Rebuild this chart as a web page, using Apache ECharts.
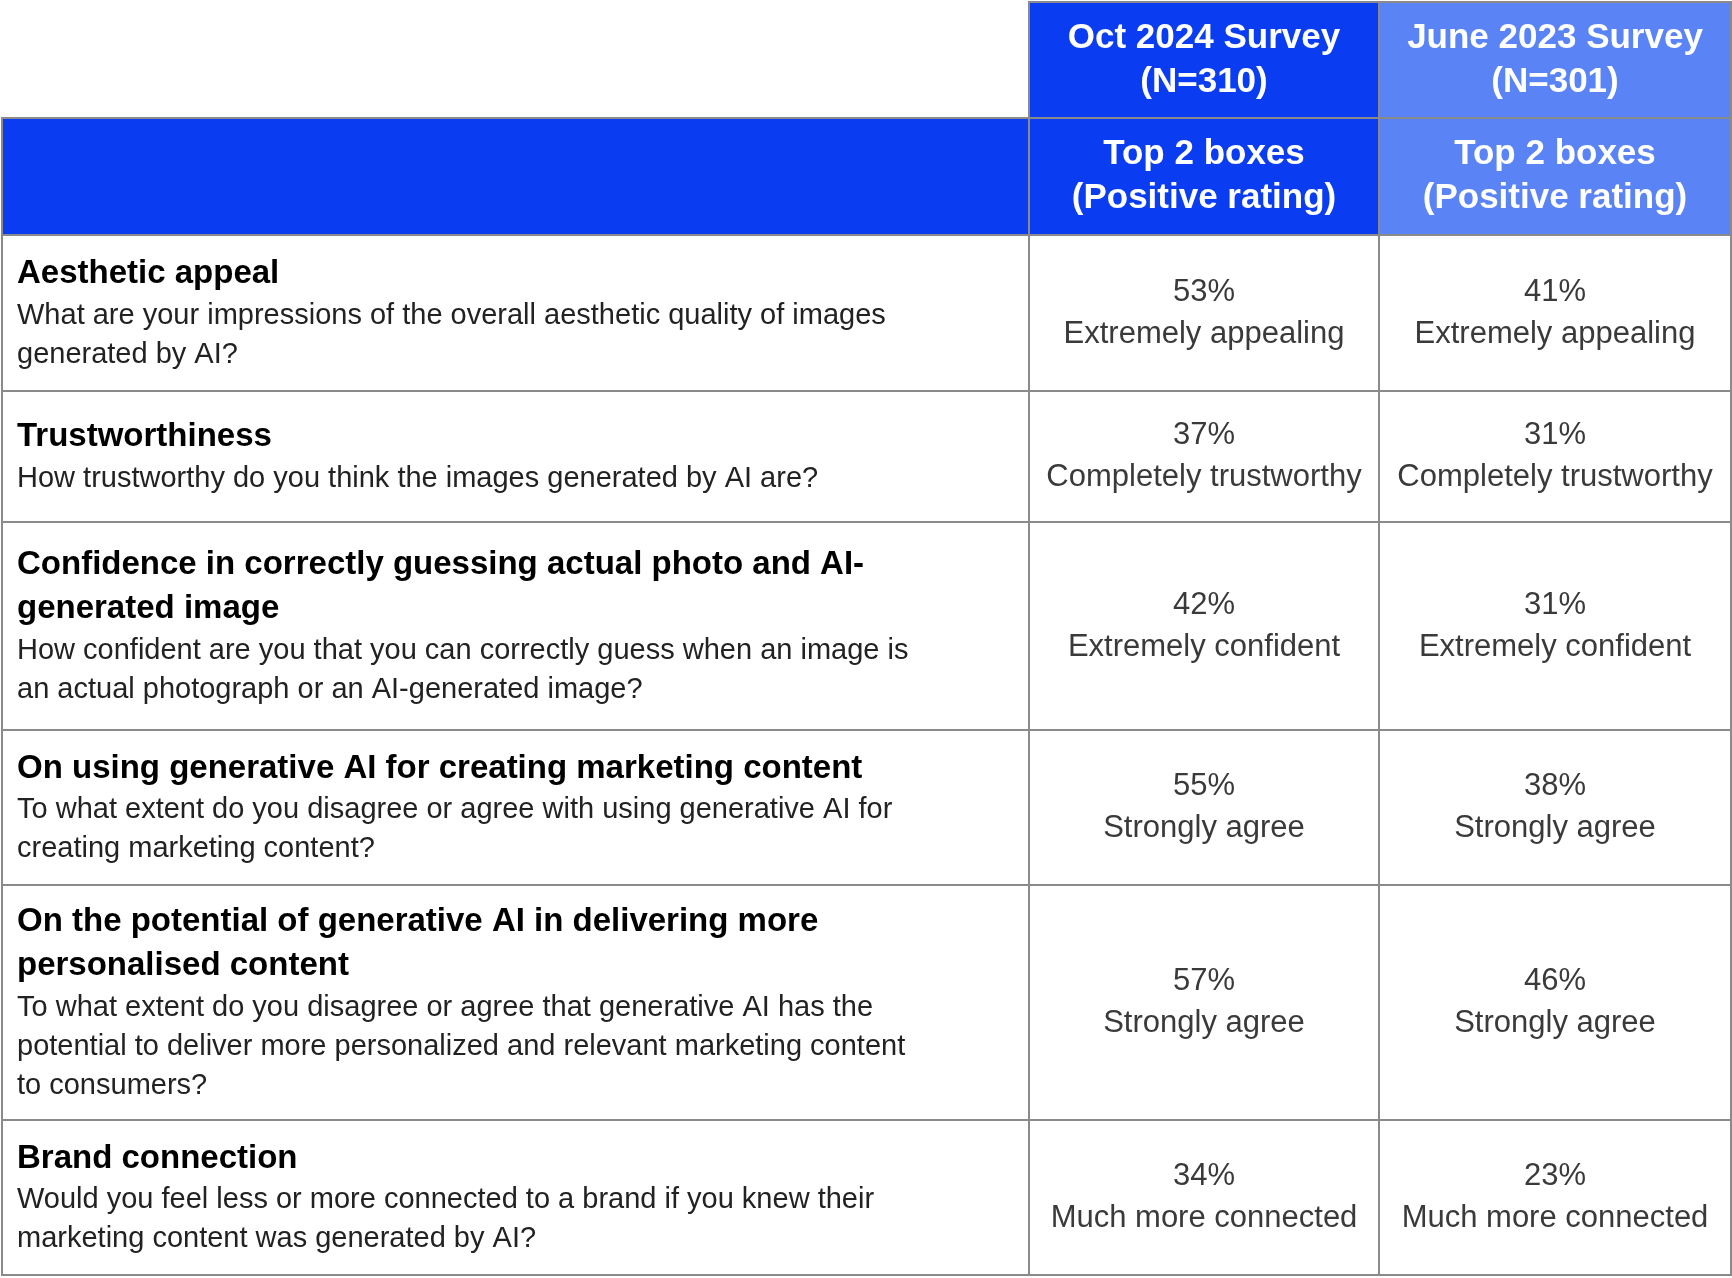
<!DOCTYPE html>
<html><head><meta charset="utf-8">
<script src="https://cdn.jsdelivr.net/npm/echarts@6/dist/echarts.min.js"></script>
<style>html,body{margin:0;background:#fff}#c{width:1732px;height:1278px}</style>
</head><body><div id="c"></div>
<script>
// data
const surveys = ['Oct 2024 Survey\n(N=310)', 'June 2023 Survey\n(N=301)'];
const subHeader = 'Top 2 boxes\n(Positive rating)';
const topics = [
  'Aesthetic appeal',
  'Trustworthiness',
  'Confidence in correctly guessing actual photo and AI-\ngenerated image',
  'On using generative AI for creating marketing content',
  'On the potential of generative AI in delivering more\npersonalised content',
  'Brand connection'
];
const questions = [
  'What are your impressions of the overall aesthetic quality of images\ngenerated by AI?',
  'How trustworthy do you think the images generated by AI are?',
  'How confident are you that you can correctly guess when an image is\nan actual photograph or an AI-generated image?',
  'To what extent do you disagree or agree with using generative AI for\ncreating marketing content?',
  'To what extent do you disagree or agree that generative AI has the\npotential to deliver more personalized and relevant marketing content\nto consumers?',
  'Would you feel less or more connected to a brand if you knew their\nmarketing content was generated by AI?'
];
const oct2024 = [53, 37, 42, 55, 57, 34];
const june2023 = [41, 31, 31, 38, 46, 23];
const answerLabels = ['Extremely appealing', 'Completely trustworthy', 'Extremely confident',
  'Strongly agree', 'Strongly agree', 'Much more connected'];

// layout (pixel edges of the table grid)
const colEdges = [2, 1029, 1379, 1731];
const rowEdges = [2, 118, 235, 391, 522, 730, 885, 1120, 1275];

const DARK = '#0a3cf2', LIGHT = '#5a84f6';
const FONT = '"Liberation Sans", Arial, sans-serif';

const cells = [];
surveys.forEach((s, i) => cells.push({value: [i + 1, 0], kind: 'head', text: s}));
cells.push({value: [0, 1], kind: 'blank'});
surveys.forEach((s, i) => cells.push({value: [i + 1, 1], kind: 'head', text: subHeader}));
topics.forEach((t, r) => {
  cells.push({value: [0, r + 2], kind: 'label', r});
  cells.push({value: [1, r + 2], kind: 'val', text: oct2024[r] + '%\n' + answerLabels[r]});
  cells.push({value: [2, r + 2], kind: 'val', text: june2023[r] + '%\n' + answerLabels[r]});
});

function renderItem(params, api) {
  const d = cells[params.dataIndex];
  const c = d.value[0], r = d.value[1];
  const p0 = api.coord([colEdges[c], rowEdges[r]]);
  const p1 = api.coord([colEdges[c + 1], rowEdges[r + 1]]);
  const w = p1[0] - p0[0], h = p1[1] - p0[1];
  let fill = '#fff';
  if (d.kind === 'head') fill = c === 1 ? DARK : LIGHT;
  if (d.kind === 'blank') fill = DARK;
  const children = [{type: 'rect', shape: {x: p0[0], y: p0[1], width: w, height: h},
    style: {fill, stroke: '#8a8a8a', lineWidth: 2}}];
  if (d.kind === 'head') {
    children.push({type: 'text', style: {x: p0[0] + w / 2, y: p0[1] + h / 2, text: d.text,
      align: 'center', verticalAlign: 'middle', fill: '#fff', font: 'bold 35px ' + FONT, lineHeight: 44}});
  } else if (d.kind === 'val') {
    children.push({type: 'text', style: {x: p0[0] + w / 2, y: p0[1] + h / 2, text: d.text,
      align: 'center', verticalAlign: 'middle', fill: '#3a3a3a', font: '31px ' + FONT, lineHeight: 42}});
  } else if (d.kind === 'label') {
    children.push({type: 'text', style: {x: p0[0] + 15, y: p0[1] + h / 2,
      text: '{t|' + topics[d.r].split('\n').join('}\n{t|') + '}\n{q|' + questions[d.r].split('\n').join('}\n{q|') + '}',
      align: 'left', verticalAlign: 'middle',
      rich: {
        t: {font: 'bold 33px ' + FONT, fill: '#000', lineHeight: 44},
        q: {font: '29px ' + FONT, fill: '#222', lineHeight: 39}
      }}});
  }
  return {type: 'group', children};
}

const chart = echarts.init(document.getElementById('c'));
chart.setOption({
  backgroundColor: '#fff',
  animation: false,
  grid: {left: 0, right: 0, top: 0, bottom: 0},
  xAxis: {type: 'value', min: 0, max: 1732, show: false},
  yAxis: {type: 'value', min: 0, max: 1278, inverse: true, show: false},
  series: [{type: 'custom', renderItem, data: cells.map(d => d.value), clip: false}]
});
</script></body></html>
